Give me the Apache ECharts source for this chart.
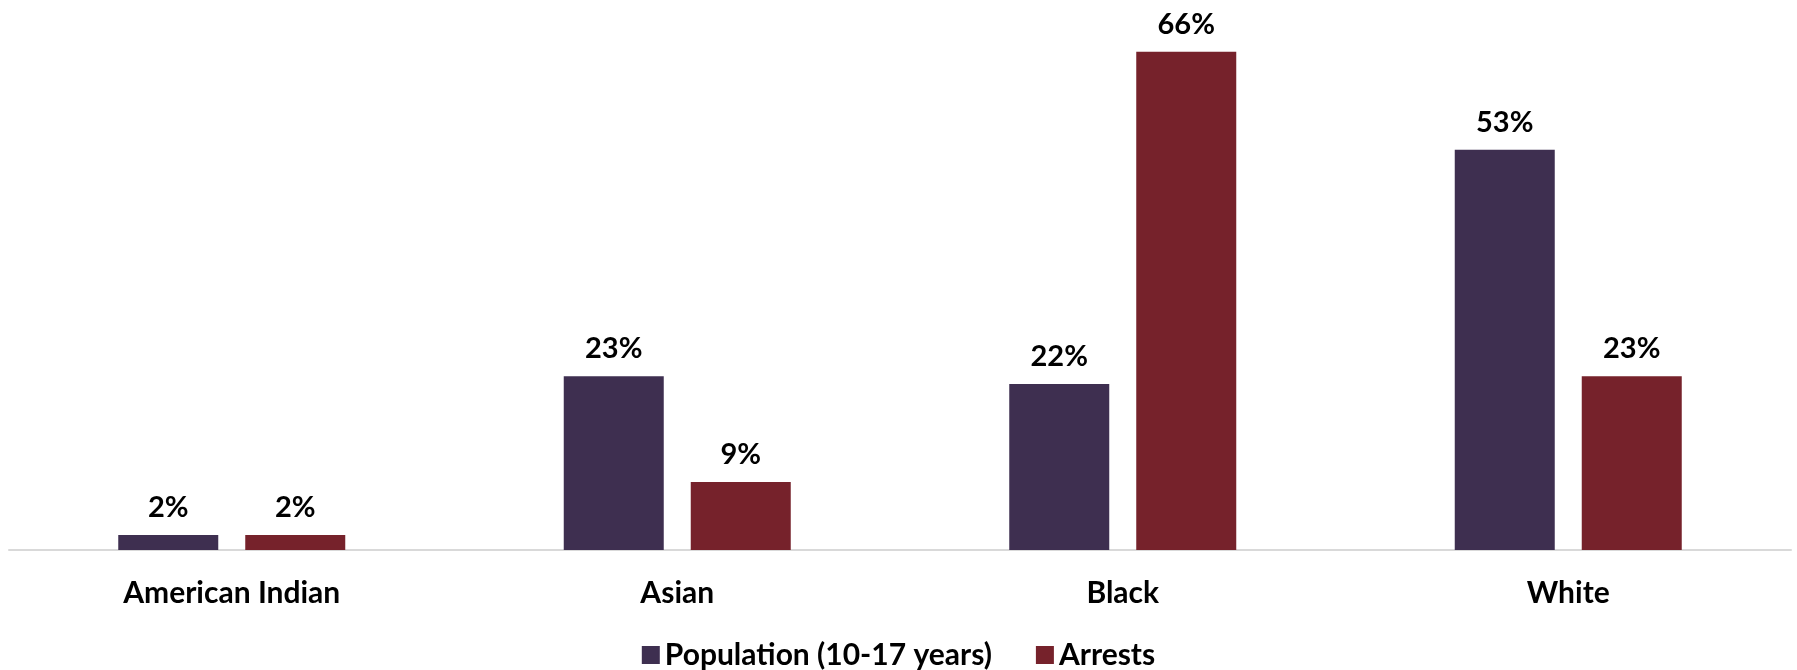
<!DOCTYPE html>
<html><head><meta charset="utf-8">
<script src="https://cdn.jsdelivr.net/npm/echarts@6/dist/echarts.min.js"></script>
<style>html,body{margin:0;padding:0;background:#fff}#c{width:1797px;height:670px}</style>
</head><body><div id="c"></div>
<script>
const categories = ["American Indian", "Asian", "Black", "White"];
const population = [2, 23, 22, 53];
const arrests = [2, 9, 66, 23];
const seriesNames = ["Population (10-17 years)", "Arrests"];
const colors = ["#3E2F50", "#76222B"];

const chart = echarts.init(document.getElementById('c'));
const font = 'Lato, "Open Sans", sans-serif';
const labelCfg = {show: true, position: 'top', distance: 13, formatter: '{c}%', fontFamily: font, fontWeight: 'bold', fontSize: 29, color: '#000'};
chart.setOption({
  animation: false,
  color: colors,
  legend: {
    top: 635, left: 'center', padding: [5, 5, 5, 19], itemWidth: 18, itemHeight: 18, itemGap: 44,
    icon: 'rect',
    textStyle: {fontFamily: font, fontWeight: 'bold', fontSize: 30, color: '#000'},
    data: seriesNames
  },
  grid: {left: 9, right: 6, top: 21.5, bottom: 120, containLabel: false},
  xAxis: {
    type: 'category', data: categories,
    axisLine: {lineStyle: {color: '#d9d9d9', width: 2}},
    axisTick: {show: false},
    axisLabel: {margin: 28, fontFamily: font, fontWeight: 'bold', fontSize: 30, color: '#000'}
  },
  yAxis: {type: 'value', min: 0, max: 70, show: false, splitLine: {show: false}},
  series: [
    {name: seriesNames[0], type: 'bar', data: population, barWidth: 100, barGap: '27%', label: labelCfg},
    {name: seriesNames[1], type: 'bar', data: arrests, barWidth: 100, label: labelCfg}
  ]
});
</script></body></html>
